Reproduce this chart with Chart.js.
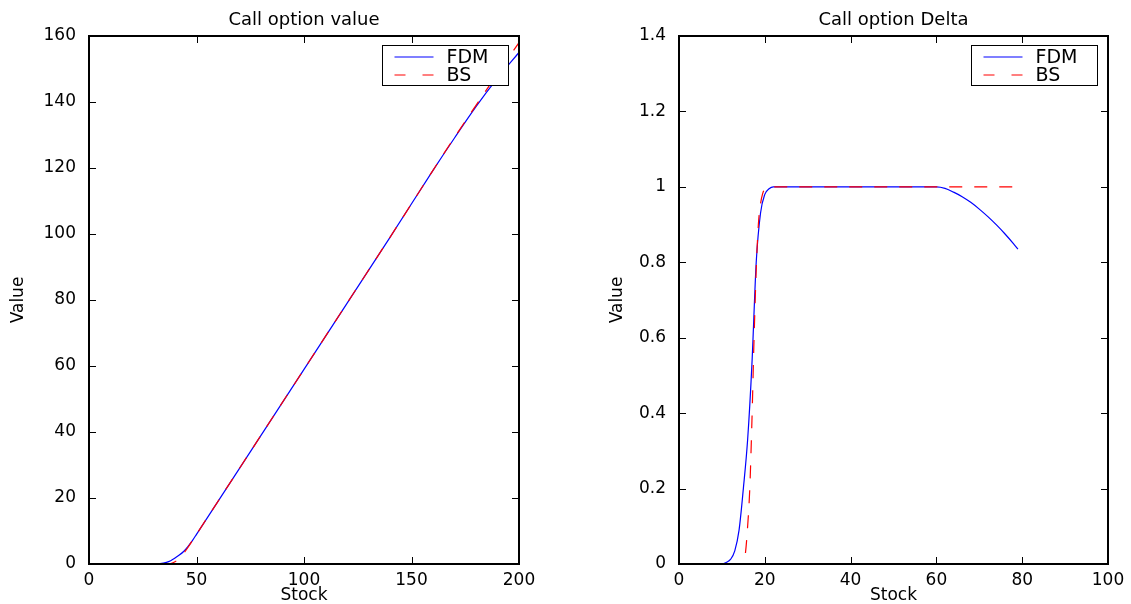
<!DOCTYPE html>
<html><head><meta charset="utf-8">
<script src="https://cdn.jsdelivr.net/npm/chart.js@4/dist/chart.umd.min.js"></script>
<style>
html,body{margin:0;padding:0;background:#fff;}
#wrap{position:relative;width:1131px;height:604px;background:#fff;}
.c{position:absolute;top:0;height:604px;}
#c1box{left:0;width:566px;}
#c2box{left:566px;width:565px;}
</style></head><body>
<div id="wrap"><div class="c" id="c1box"><canvas id="c1"></canvas></div><div class="c" id="c2box"><canvas id="c2"></canvas></div></div>
<script>
// ---- data ----
const seriesNames = ['FDM', 'BS'];
const chartTitles = ['Call option value', 'Call option Delta'];
const xAxisTitle = 'Stock';
const yAxisTitle = 'Value';

// Left: call option value
const valueStockFDM = [0, 10, 20, 30, 33, 36, 38, 40, 42, 44, 46, 48, 50, 60, 80, 100, 120, 140, 160, 170, 180, 190, 200];
const valueFDM      = [0, 0, 0, 0, 0.1, 0.5, 1.0, 1.8, 2.7, 3.8, 5.3, 7.0, 9.0, 19, 39, 59, 79, 99, 119.3, 129.1, 138.6, 147.2, 155];
const valueStockBS  = [0, 10, 20, 30, 36, 38, 40, 42, 44, 46, 48, 50, 60, 80, 100, 120, 140, 160, 170, 180, 190, 200];
const valueBS       = [0, 0, 0, 0, 0, 0.15, 0.7, 1.7, 3.2, 5.0, 7.0, 9.0, 19, 39, 59, 79, 99, 119.3, 129.3, 139.0, 148.6, 158];

// Right: call option delta
const deltaStockFDM = [0, 5, 10, 11, 12, 13, 14, 15, 16, 17, 18, 19, 20, 21, 22, 30, 40, 50, 60, 62, 64, 66, 68, 70, 72, 74, 76, 78, 79];
const deltaFDM      = [0, 0, 0, 0.004, 0.012, 0.035, 0.09, 0.2, 0.33, 0.53, 0.8, 0.93, 0.98, 0.995, 1.0, 1, 1, 1, 1, 0.996, 0.986, 0.974, 0.959, 0.941, 0.921, 0.899, 0.875, 0.849, 0.835];
const deltaStockBS  = [0, 5, 10, 14, 15, 15.5, 16, 16.5, 17, 17.5, 18, 18.5, 19, 19.5, 20, 21, 22, 30, 40, 50, 60, 70, 80];
const deltaBS       = [0, 0, 0, 0, 0.002, 0.03, 0.1, 0.2, 0.38, 0.6, 0.78, 0.9, 0.955, 0.982, 0.994, 0.999, 1, 1, 1, 1, 1, 1, 1];

// tick labels
const valueXTicks = [0, 50, 100, 150, 200];
const valueYTicks = [0, 20, 40, 60, 80, 100, 120, 140, 160];
const deltaXTicks = [0, 20, 40, 60, 80, 100];
const deltaYTicks = [0, 0.2, 0.4, 0.6, 0.8, 1, 1.2, 1.4];

const FONT = '"DejaVu Sans", "Liberation Sans", sans-serif';
const pts = (xs, ys) => xs.map((x, i) => ({x: x, y: ys[i]}));
const fmt = v => String(+Number(v).toFixed(3));

// MATLAB-like box with inward ticks
const boxPlugin = {
  id: 'matBox',
  afterDraw(chart) {
    const {ctx, chartArea: a, scales: {x, y}} = chart;
    ctx.save();
    ctx.strokeStyle = '#000';
    ctx.lineWidth = 2;
    ctx.strokeRect(a.left, a.top, a.right - a.left, a.bottom - a.top);
    ctx.lineWidth = 1;
    const L = 7;
    ctx.beginPath();
    x.ticks.forEach(t => {
      const px = Math.round(x.getPixelForValue(t.value)) + 0.5;
      ctx.moveTo(px, a.bottom); ctx.lineTo(px, a.bottom - L);
      ctx.moveTo(px, a.top); ctx.lineTo(px, a.top + L);
    });
    y.ticks.forEach(t => {
      const py = Math.round(y.getPixelForValue(t.value)) + 0.5;
      ctx.moveTo(a.left, py); ctx.lineTo(a.left + L, py);
      ctx.moveTo(a.right, py); ctx.lineTo(a.right - L, py);
    });
    ctx.stroke();
    ctx.restore();
  }
};

// Legend box inside plot area (north-east)
const legendPlugin = {
  id: 'matLegend',
  afterDraw(chart) {
    const {ctx, chartArea: a} = chart;
    const w = 126, h = 40;
    const bx = Math.round(a.right - 11 - w) + 0.5, by = Math.round(a.top + 9) + 0.5;
    ctx.save();
    ctx.fillStyle = '#fff';
    ctx.fillRect(bx, by, w, h);
    ctx.strokeStyle = '#000';
    ctx.lineWidth = 1;
    ctx.strokeRect(bx, by, w, h);
    const ds = chart.data.datasets;
    ctx.font = '19px ' + FONT;
    ctx.textBaseline = 'middle';
    ctx.textAlign = 'left';
    seriesNames.forEach((name, row) => {
      const d = ds.find(s => s.label === name);
      const ly = by + 11.5 + row * 18;
      ctx.beginPath();
      ctx.strokeStyle = d.borderColor;
      ctx.lineWidth = 1.2;
      ctx.setLineDash(d.borderDash && d.borderDash.length ? [11, 17] : []);
      ctx.moveTo(bx + 12, ly); ctx.lineTo(bx + 51, ly);
      ctx.stroke();
      ctx.setLineDash([]);
      ctx.fillStyle = '#000';
      ctx.fillText(d.label, bx + 64, ly + 1);
    });
    ctx.restore();
  }
};

function makeChart(id, title, fdmX, fdmY, bsX, bsY, xTicks, yTicks, yMax, xMax, yWidth, rightPad, yTitlePad) {
  return new Chart(document.getElementById(id), {
    type: 'line',
    data: {
      datasets: [
        {label: seriesNames[0], data: pts(fdmX, fdmY), borderColor: '#0000ff', borderWidth: 1.2,
         pointRadius: 0, fill: false, cubicInterpolationMode: 'monotone', order: 1},
        {label: seriesNames[1], data: pts(bsX, bsY), borderColor: '#ff0000', borderWidth: 1.2,
         borderDash: [13, 12], pointRadius: 0, fill: false, cubicInterpolationMode: 'monotone', order: 0}
      ]
    },
    options: {
      responsive: true, maintainAspectRatio: false, animation: false, devicePixelRatio: 1,
      layout: {padding: {left: 0, right: rightPad, top: 0, bottom: 0}},
      plugins: {
        legend: {display: false}, tooltip: {enabled: false},
        title: {display: true, text: title, color: '#000', fullSize: false,
                font: {family: FONT, size: 18, weight: 'normal', lineHeight: 1},
                padding: {top: 11, bottom: 7}}
      },
      scales: {
        x: {
          type: 'linear', min: 0, max: xMax,
          afterBuildTicks: s => { s.ticks = xTicks.map(v => ({value: v})); },
          afterFit: s => { s.height = 40; },
          grid: {display: false}, border: {display: false},
          ticks: {color: '#000', font: {family: FONT, size: 17, lineHeight: 1}, padding: 0, maxRotation: 0, autoSkip: false, callback: fmt},
          title: {display: true, text: xAxisTitle, color: '#000', font: {family: FONT, size: 17, lineHeight: 1}, padding: {top: 0, bottom: 0}}
        },
        y: {
          type: 'linear', min: 0, max: yMax,
          afterBuildTicks: s => { s.ticks = yTicks.map(v => ({value: v})); },
          afterFit: s => { s.width = yWidth; },
          grid: {display: false}, border: {display: false},
          ticks: {color: '#000', font: {family: FONT, size: 17, lineHeight: 1}, padding: 5, autoSkip: false, callback: fmt},
          title: {display: true, text: yAxisTitle, color: '#000', font: {family: FONT, size: 17, lineHeight: 1}, padding: {top: yTitlePad, bottom: 0}}
        }
      }
    },
    plugins: [boxPlugin, legendPlugin]
  });
}

makeChart('c1', chartTitles[0], valueStockFDM, valueFDM, valueStockBS, valueBS, valueXTicks, valueYTicks, 160, 200, 89, 47, 10);
makeChart('c2', chartTitles[1], deltaStockFDM, deltaFDM, deltaStockBS, deltaBS, deltaXTicks, deltaYTicks, 1.4, 100, 113, 23, 43);
</script>
</body></html>
